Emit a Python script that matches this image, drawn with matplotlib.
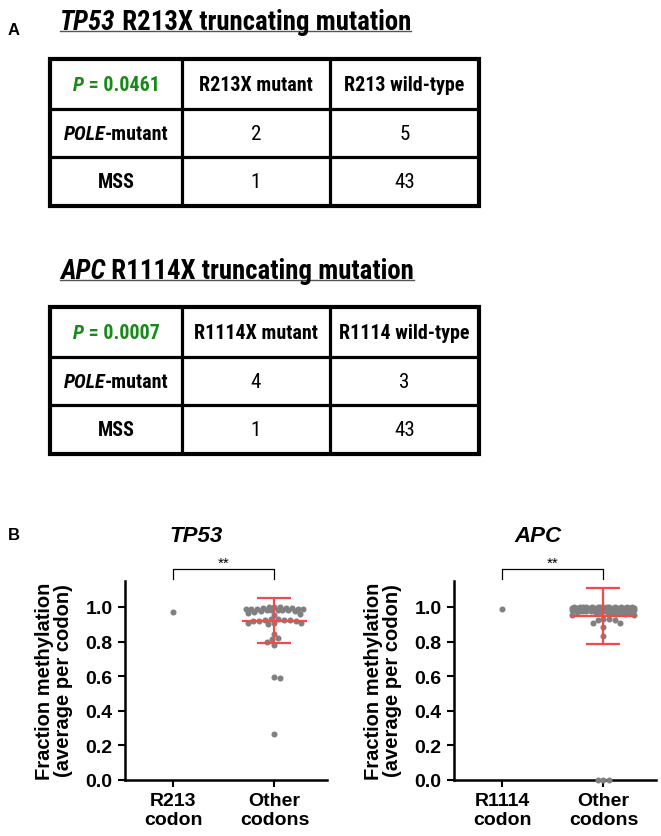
import numpy as np
import matplotlib
matplotlib.use("Agg")
import matplotlib.pyplot as plt
from matplotlib import font_manager as fm

# ---- table data (panel A) ----
tp53_p = "0.0461"
tp53_cols = ["R213X mutant", "R213 wild-type"]
tp53_pole = ["2", "5"]
tp53_mss = ["1", "43"]

apc_p = "0.0007"
apc_cols = ["R1114X mutant", "R1114 wild-type"]
apc_pole = ["4", "3"]
apc_mss = ["1", "43"]

# ---- methylation data (panel B) ----
tp53_labels = ["R213\ncodon", "Other\ncodons"]
tp53_codon = [0.973]
tp53_other = [1.00, 1.00, 1.00, 0.995, 0.995, 0.995, 0.99, 0.99, 0.99, 0.99, 0.99,
              0.985, 0.985, 0.98, 0.98, 0.98, 0.975, 0.975, 0.97,
              0.965, 0.96, 0.955,
              0.93, 0.93, 0.925, 0.925, 0.925, 0.92, 0.92, 0.92,
              0.91, 0.905, 0.905, 0.90,
              0.845, 0.82, 0.815, 0.80, 0.78, 0.595, 0.59, 0.265]
tp53_mean_sd = [0.921, 0.131]

apc_labels = ["R1114\ncodon", "Other\ncodons"]
apc_codon = [0.988]
apc_other = [1.00, 1.00, 1.00, 1.00, 1.00, 1.00, 1.00, 1.00, 1.00, 1.00, 1.00, 1.00, 1.00, 1.00,
             0.995, 0.995, 0.995, 0.995, 0.995, 0.995, 0.995, 0.995, 0.995, 0.995,
             0.99, 0.99, 0.99, 0.99, 0.99, 0.99, 0.99, 0.99, 0.99, 0.99,
             0.985, 0.985, 0.985, 0.985, 0.985, 0.985, 0.985, 0.985,
             0.98, 0.98, 0.98, 0.98, 0.98, 0.98, 0.98, 0.98,
             0.975, 0.975, 0.975, 0.975, 0.975, 0.975,
             0.97, 0.97, 0.97, 0.97, 0.97,
             0.965, 0.965, 0.965, 0.96, 0.96, 0.955, 0.955,
             0.93, 0.93, 0.925, 0.925, 0.91, 0.905, 0.885, 0.835,
             0.0, 0.0, 0.0]
apc_mean_sd = [0.946, 0.162]


# pick a narrow face that has a bold weight, otherwise plain Liberation Sans (sizes get calibrated)
def _w(f):
    if isinstance(f.weight, (int, float)):
        return f.weight
    return {"bold": 700, "heavy": 800, "black": 900, "semibold": 600, "demibold": 600}.get(str(f.weight).lower(), 400)


narrow_weights = {}
for f in fm.fontManager.ttflist:
    if "Narrow" in f.name or "Condensed" in f.name:
        narrow_weights.setdefault(f.name, set()).add(_w(f))
bold_narrow = [n for n, ws in narrow_weights.items() if max(ws) >= 600 and min(ws) <= 500]
NARROW = "Liberation Sans"
for pref in ["Liberation Sans Narrow", "Arial Narrow", "Roboto Condensed", "Noto Sans Condensed",
             "Open Sans Condensed", "DejaVu Sans Condensed"] + sorted(bold_narrow):
    if pref in bold_narrow:
        NARROW = pref
        break
SANS = "Liberation Sans"
GREEN = "#178a17"
RED = "#f24a4a"
GRAY = "#808080"

W, H = 661, 837
fig = plt.figure(figsize=(W / 100, H / 100), dpi=100)

# overlay in pixel units for panel A and labels
ov = fig.add_axes([0, 0, 1, 1])
ov.set_xlim(0, W)
ov.set_ylim(H, 0)
ov.axis("off")
renderer = fig.canvas.get_renderer()


def fit_size(s, target, **kw):
    t = ov.text(0, 0, s, fontsize=10, **kw)
    w = t.get_window_extent(renderer).width
    t.remove()
    return 10 * target / w


TAB = fit_size("R213X mutant", 113, family=NARROW, weight="bold")
TTL = fit_size("TP53 R213X truncating mutation", 352, family=NARROW, weight="bold")


def rich_text(x, y, parts, size, ha="center", va="center"):
    texts = [ov.text(0, y, s, fontsize=size, ha="left", va=va, **kw) for s, kw in parts]
    widths = [t.get_window_extent(renderer).width for t in texts]
    x0 = x - sum(widths) / 2 if ha == "center" else x
    for t, w in zip(texts, widths):
        t.set_x(x0)
        x0 += w
    return sum(widths)


def title(y, gene, rest):
    w = rich_text(60, y, [(gene, dict(family=NARROW, weight="bold", style="italic")),
                          (rest, dict(family=NARROW, weight="bold"))],
                  TTL, ha="left", va="baseline")
    ov.plot([60, 60 + w], [y + 2, y + 2], color="#555555", lw=1.0)


def table(top, p, cols, pole, mss):
    xs = [50, 182, 330, 479]
    ys = [top, top + 50, top + 98, top + 147]
    for y in ys[1:-1]:
        ov.plot([xs[0], xs[-1]], [y, y], color="black", lw=2.3, solid_capstyle="butt")
    for x in xs[1:-1]:
        ov.plot([x, x], [ys[0], ys[-1]], color="black", lw=2.3, solid_capstyle="butt")
    ov.add_patch(plt.Rectangle((xs[0], ys[0]), xs[-1] - xs[0], ys[-1] - ys[0],
                               fill=False, lw=3.0, ec="black", joinstyle="miter"))
    cx = [(xs[i] + xs[i + 1]) / 2 for i in range(3)]
    cy = [(ys[i] + ys[i + 1]) / 2 for i in range(3)]
    rich_text(cx[0], cy[0], [("P", dict(family=NARROW, weight="bold", style="italic", color=GREEN)),
                             (" = " + p, dict(family=NARROW, weight="bold", color=GREEN))], TAB)
    for i, c in enumerate(cols):
        ov.text(cx[i + 1], cy[0], c, fontsize=TAB, family=NARROW, weight="bold", ha="center", va="center")
    rich_text(cx[0], cy[1], [("POLE", dict(family=NARROW, weight="bold", style="italic")),
                             ("-mutant", dict(family=NARROW, weight="bold"))], TAB)
    ov.text(cx[0], cy[2], "MSS", fontsize=TAB, family=NARROW, weight="bold", ha="center", va="center")
    for i in range(2):
        ov.text(cx[i + 1], cy[1], pole[i], fontsize=TAB * 1.05, family=NARROW, ha="center", va="center")
        ov.text(cx[i + 1], cy[2], mss[i], fontsize=TAB * 1.05, family=NARROW, ha="center", va="center")


ov.text(14, 30, "A", fontsize=12, family=SANS, weight="bold", ha="center", va="center")
title(30, "TP53", " R213X truncating mutation")
table(60, tp53_p, tp53_cols, tp53_pole, tp53_mss)
title(279, "APC", " R1114X truncating mutation")
table(308, apc_p, apc_cols, apc_pole, apc_mss)
ov.text(14, 535, "B", fontsize=12, family=SANS, weight="bold", ha="center", va="center")


def swarm_offsets(ax, vals, diam, half_w):
    vals = np.asarray(vals, dtype=float)
    tr = ax.transData
    ypx = tr.transform(np.column_stack([np.zeros(len(vals)), vals]))[:, 1]
    xscale = tr.transform([(1, 0)])[0, 0] - tr.transform([(0, 0)])[0, 0]
    grid = np.linspace(-half_w, half_w, 41)
    px, py = [], []
    off = np.zeros(len(vals))
    for i in np.argsort(-vals, kind="stable"):
        y = ypx[i]
        cands = [0.0]
        for a, b in zip(px, py):
            dy = abs(b - y)
            if dy < diam:
                dx = np.sqrt(diam ** 2 - dy ** 2)
                cands += [a + dx, a - dx]
        cands = sorted(cands, key=abs)
        best = None
        for c in cands:
            if abs(c) > half_w + 1e-6:
                continue
            if all((c - a) ** 2 + (y - b) ** 2 >= diam ** 2 - 1e-6 for a, b in zip(px, py)):
                best = c
                break
        if best is None:
            P = np.array(px)
            Q = np.array(py)
            d = [np.min((g - P) ** 2 + (y - Q) ** 2) - 1e-3 * g ** 2 for g in grid]
            best = grid[int(np.argmax(d))]
        px.append(best)
        py.append(y)
        off[i] = best / xscale
    return off


def panel(left, codon, other, mean_sd, labels, gene, gene_x):
    ax = fig.add_axes([left / W, 1 - 781 / H, 202 / W, 199 / H])
    ax.set_xlim(-0.48, 1.52)
    ax.set_ylim(0, 1.15)
    for s in ["top", "right"]:
        ax.spines[s].set_visible(False)
    for s in ["left", "bottom"]:
        ax.spines[s].set_linewidth(1.8)
    ax.set_yticks([0.0, 0.2, 0.4, 0.6, 0.8, 1.0])
    ax.set_yticklabels(["0.0", "0.2", "0.4", "0.6", "0.8", "1.0"])
    ax.set_xticks([0, 1])
    ax.set_xticklabels(labels, linespacing=1.15)
    ax.tick_params(width=1.5, length=5, labelsize=14, pad=4)
    for t in ax.get_xticklabels() + ax.get_yticklabels():
        t.set_fontweight("bold")
        t.set_family(SANS)

    ax.scatter(np.zeros(len(codon)), codon, s=19, color=GRAY, lw=0, zorder=3, clip_on=False)
    xo = swarm_offsets(ax, other, 5.8, 31)
    ax.scatter(1 + xo, other, s=19, color=GRAY, lw=0, zorder=3, clip_on=False)

    m, sd = mean_sd
    ax.errorbar([1], [m], yerr=[sd], fmt="none", ecolor=RED, elinewidth=1.6,
                capsize=12.2, capthick=1.6, zorder=4)
    ax.hlines(m, 1 - 0.32, 1 + 0.32, color=RED, lw=1.6, zorder=4)

    # significance bracket
    ax.plot([0, 0, 1, 1], [1.162, 1.22, 1.22, 1.162], color="black", lw=0.9, clip_on=False)
    ax.text(0.5, 1.215, "**", ha="center", va="bottom", fontsize=11, family=SANS, clip_on=False)

    ov.text(left - 71, 681, "Fraction methylation\n(average per codon)", rotation=90,
            ha="center", va="center", fontsize=14.5, family=SANS, weight="bold", linespacing=1.05)
    ov.text(gene_x, 537, gene, ha="center", va="center", fontsize=16, family=SANS,
            weight="bold", style="italic")
    return ax


panel(125, tp53_codon, tp53_other, tp53_mean_sd, tp53_labels, "TP53", 196)
panel(454, apc_codon, apc_other, apc_mean_sd, apc_labels, "APC", 538)

fig.savefig("out.png", dpi=100)
